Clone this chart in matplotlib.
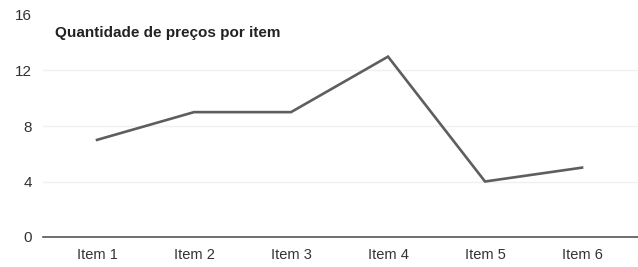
import matplotlib
matplotlib.use("Agg")
import matplotlib.pyplot as plt

categories = ["Item 1", "Item 2", "Item 3", "Item 4", "Item 5", "Item 6"]
values = [7, 9, 9, 13, 4, 5]
yticks = [0, 4, 8, 12, 16]
title = "Quantidade de preços por item"

plt.rcParams['font.family'] = ['Liberation Sans', 'DejaVu Sans']

fig = plt.figure(figsize=(6.38, 2.67), dpi=100)
ax = fig.add_axes([43/638, 30/267, 595/638, 222/267])
x = list(range(len(categories)))
ax.plot(x, values, color="#5e5e5e", lw=1.9, solid_joinstyle="miter")
ax.set_xlim(-0.557, 5.577)
ax.set_ylim(0, 16)
ax.set_yticks(yticks)
ax.set_xticks(x)
ax.set_xticklabels(categories)
for s in ["top", "right", "left"]:
    ax.spines[s].set_visible(False)
ax.spines["bottom"].set_color("#555555")
ax.spines["bottom"].set_linewidth(1.2)
ax.tick_params(axis="both", length=0, colors="#333333")
ax.tick_params(axis="y", pad=8, labelsize=11)
ax.tick_params(axis="x", pad=8, labelsize=10.5)
for t in [4, 8, 12]:
    ax.axhline(t, color="#f0f0f0", lw=1, zorder=0)
ax.text(0.02, 0.919, title, transform=ax.transAxes, fontsize=11, fontweight="bold",
        color="#222222", ha="left", va="center")
fig.savefig("out.png", dpi=100, facecolor="white")
